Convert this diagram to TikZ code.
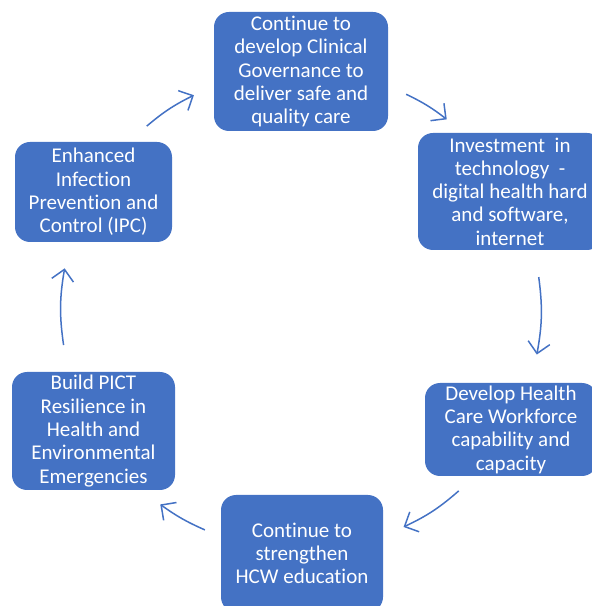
\documentclass[tikz,border=0pt]{standalone}
\usepackage{fontspec}
\setmainfont[Ligatures=NoCommon]{Carlito}
\usetikzlibrary{arrows.meta,calc}
\definecolor{boxblue}{HTML}{4472C4}

\begin{document}
\begin{tikzpicture}[x=1pt,y=1pt]
\clip (0,0) rectangle (592,606);
\tikzstyle{goal}=[rectangle,rounded corners=15pt,fill=boxblue,text=white,align=center,inner sep=0pt,font=\fontsize{21}{23.3}\selectfont];
\tikzstyle{cyc}=[boxblue,line width=1.5pt,-{Straight Barb[length=11pt,width=22pt]}];
\node[goal,minimum width=174pt,minimum height=119pt] (g1) at (301, 534.5) {Continue to\\develop Clinical\\Governance to\\deliver safe and\\quality care};
\node[goal,minimum width=184pt,minimum height=117pt] (g2) at (510, 414.5) {Investment\ \ in\\technology\ \ -\\digital health hard\\and software,\\internet};
\node[goal,minimum width=172pt,minimum height=93pt] (g3) at (511, 176.5) {Develop Health\\Care Workforce\\capability and\\capacity};
\node[goal,minimum width=162pt,minimum height=117pt] (g4) at (302, 52.5) {Continue to\\strengthen\\HCW education};
\node[goal,minimum width=163pt,minimum height=118pt] (g5) at (93.5, 175) {Build PICT\\Resilience in\\Health and\\Environmental\\Emergencies};
\node[goal,minimum width=157pt,minimum height=100pt] (g6) at (93.5, 414) {Enhanced\\Infection\\Prevention and\\Control (IPC)};
% arrows on a circle round the middle
\coordinate (ctr) at (301, 296);
\coordinate (s1) at ($(ctr)+(130:240)$);
\coordinate (e1) at ($(ctr)+(116.5:240)$);
\coordinate (s2) at ($(ctr)+(64:240)$);
\coordinate (e2) at ($(ctr)+(52.6:240)$);
\coordinate (s3) at ($(ctr)+(7.9:240)$);
\coordinate (e3) at ($(ctr)+(-10.7:240)$);
\coordinate (s4) at ($(ctr)+(-48.9:240)$);
\coordinate (e4) at ($(ctr)+(-64.7:240)$);
\coordinate (s5) at ($(ctr)+(-113.6:240)$);
\coordinate (e5) at ($(ctr)+(-125.9:240)$);
\coordinate (s6) at ($(ctr)+(188.4:240)$);
\coordinate (e6) at ($(ctr)+(170:240)$);
\draw[cyc] (s1) to[bend left=7] (e1);
\draw[cyc] (s2) to[bend left=6] (e2);
\draw[cyc] (s3) to[bend left=9] (e3);
\draw[cyc] (s4) to[bend left=8] (e4);
\draw[cyc] (s5) to[bend left=6] (e5);
\draw[cyc] (s6) to[bend left=9] (e6);
\end{tikzpicture}
\end{document}
